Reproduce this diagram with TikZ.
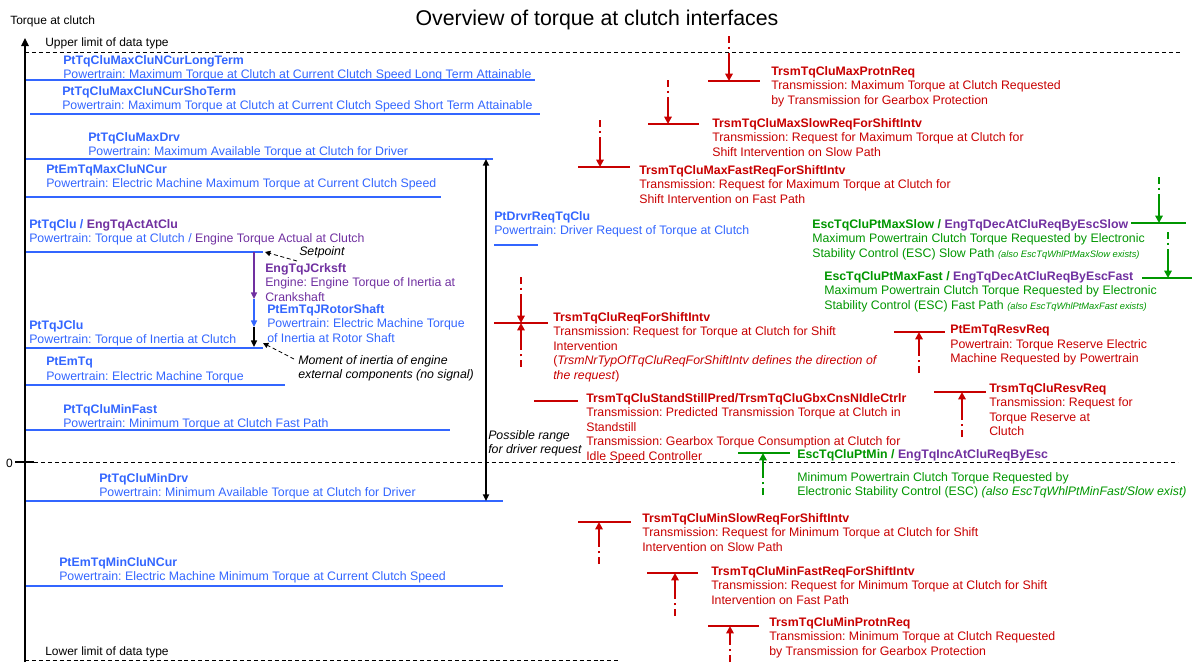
\documentclass[tikz,border=0pt]{standalone}
\usepackage{fontspec}
\setmainfont{Liberation Sans}
\usetikzlibrary{arrows.meta,positioning}
\frenchspacing

\definecolor{sigblue}{RGB}{51,102,255}
\definecolor{sigred}{RGB}{200,0,0}
\definecolor{siggreen}{RGB}{0,150,0}
\definecolor{sigpurple}{RGB}{112,48,160}

\begin{document}
\begin{tikzpicture}[
    x=0.75pt, y=-0.75pt,
    % --- STYLES ---
    sigtxt/.style={
        anchor=north west, inner sep=0pt,
        align=left, font=\fontsize{9.25}{10.9}\selectfont
    },
    bluetxt/.style={sigtxt, text=sigblue},
    redtxt/.style={sigtxt, text=sigred},
    greentxt/.style={sigtxt, text=siggreen},
    purpletxt/.style={sigtxt, text=sigpurple},
    remark/.style={sigtxt, font=\fontsize{9.25}{10.9}\selectfont\itshape},
    axislbl/.style={anchor=west, inner sep=0pt, font=\fontsize{9}{10.8}\selectfont},
    bluelvl/.style={draw=sigblue, line width=1.5pt},
    redlvl/.style={draw=sigred, line width=1.8pt},
    greenlvl/.style={draw=siggreen, line width=1.8pt},
    limitline/.style={draw=black, line width=0.7pt, dash pattern=on 3pt off 2.2pt},
    reqtail/.style={line width=1.6pt, dash pattern=on 5pt off 3pt on 2pt off 3pt},
    reqarrow/.style={line width=1.6pt, -{Triangle[length=5.5pt,width=5.5pt]}},
    inarrow/.style={line width=1pt, -{Triangle[length=5pt,width=4.5pt]}},
    drvrange/.style={line width=1.3pt,
        {Triangle[length=5pt,width=4.5pt]}-{Triangle[length=5pt,width=4.5pt]}},
    hintarrow/.style={black, line width=0.6pt, densely dashed,
        -{Triangle[length=4pt,width=4pt]}}
]
\useasboundingbox (0,0) rectangle (1192,662);

% ===== 1. AXIS & HEADERS =====
\def\xAxis{25}

\node[font=\fontsize{16}{19}\selectfont] (title) at (597,20) {Overview of torque at clutch interfaces};
\node[axislbl] (axlbl) at (10,21) {Torque at clutch};

\coordinate (axbot) at (\xAxis,662);
\coordinate (axtop) at (\xAxis,38);
\draw[line width=1.4pt, -{Triangle[length=6pt,width=5.5pt]}] (axbot) -- (axtop);

\node[axislbl, anchor=east] (zero) at (13,463) {0};
\draw[line width=1.4pt] (zero.east) ++(2,-1) -- (34,462);

\node[axislbl] (upper) at (45,43) {Upper limit of data type};
\node[axislbl] (lower) at (45,652) {Lower limit of data type};
\draw[limitline] (\xAxis,52) -- (1180,52);
\draw[limitline] (34,462) -- (1178,462);
\draw[limitline] (\xAxis,660) -- (620,660);

% ===== 2. POWERTRAIN LEVELS =====
\node[bluetxt] (lvl1) at (63,55) {\textbf{PtTqCluMaxCluNCurLongTerm}\\Powertrain: Maximum Torque at Clutch at Current Clutch Speed Long Term Attainable};
\draw[bluelvl] (26,80) -- (535,80);

\node[bluetxt] (lvl2) at (62,86) {\textbf{PtTqCluMaxCluNCurShoTerm}\\Powertrain: Maximum Torque at Clutch at Current Clutch Speed Short Term Attainable};
\draw[bluelvl] (30,114) -- (540,114);

\node[bluetxt] (lvl3) at (88,132) {\textbf{PtTqCluMaxDrv}\\Powertrain: Maximum Available Torque at Clutch for Driver};
\draw[bluelvl] (26,159) -- (493,159);

\node[bluetxt] (lvl4) at (46,164) {\textbf{PtEmTqMaxCluNCur}\\Powertrain: Electric Machine Maximum Torque at Current Clutch Speed};
\draw[bluelvl] (26,197) -- (441,197);

\node[bluetxt] (lvl5) at (29,219) {\textbf{PtTqClu / \textcolor{sigpurple}{EngTqActAtClu}}\\Powertrain: Torque at Clutch / \textcolor{sigpurple}{Engine Torque Actual at Clutch}};
\draw[bluelvl] (26,252) -- (263,252);

\node[bluetxt] (lvl6) at (29,320) {\textbf{PtTqJClu}\\Powertrain: Torque of Inertia at Clutch};
\draw[bluelvl] (26,348) -- (263,348);

\node[bluetxt] (lvl7) at (46,357) {\textbf{PtEmTq}\\Powertrain: Electric Machine Torque};
\draw[bluelvl] (26,385) -- (285,385);

\node[bluetxt] (lvl8) at (63,404) {\textbf{PtTqCluMinFast}\\Powertrain: Minimum Torque at Clutch Fast Path};
\draw[bluelvl] (26,430) -- (450,430);

\node[bluetxt] (lvl9) at (99,473) {\textbf{PtTqCluMinDrv}\\Powertrain: Minimum Available Torque at Clutch for Driver};
\draw[bluelvl] (26,501) -- (503,501);

\node[bluetxt] (lvl10) at (59,557) {\textbf{PtEmTqMinCluNCur}\\Powertrain: Electric Machine Minimum Torque at Current Clutch Speed};
\draw[bluelvl] (26,586) -- (503,586);

\node[bluetxt] (drvreq) at (494,211) {\textbf{PtDrvrReqTqClu}\\Powertrain: Driver Request of Torque at Clutch};
\draw[bluelvl] (494,245) -- (538,245);

% -- Driver range --
\coordinate (rngtop) at (486,159);
\coordinate (rngbot) at (486,501);
\draw[drvrange] (rngbot) -- (rngtop);
\node[remark] (rnglbl) at (488,430) {Possible range\\for driver request};

% ===== 3. INERTIA CHAIN =====
\coordinate (inA) at (254,252);
\coordinate (inB) at (254,299);
\coordinate (inC) at (254,327);
\coordinate (inD) at (254,347);
\draw[inarrow, sigpurple] (inA) -- (inB);
\draw[inarrow, sigblue] (inB) -- (inC);
\draw[inarrow, black] (inC) -- (inD);

\node[remark, anchor=west] (setpt) at (299,252) {Setpoint};
\coordinate (setpt-tip) at (265,252);
\draw[hintarrow] (297,261) -- (setpt-tip);

\node[purpletxt] (jcrk) at (265,263) {\textbf{EngTqJCrksft}\\Engine: Engine Torque of Inertia at\\Crankshaft};
\node[bluetxt] (jrot) at (267,304) {\textbf{PtEmTqJRotorShaft}\\Powertrain: Electric Machine Torque\\of Inertia at Rotor Shaft};

\node[remark] (moment) at (298,355) {Moment of inertia of engine\\external components (no signal)};
\coordinate (moment-tip) at (263,343);
\draw[hintarrow] (294,359) -- (moment-tip);

% ===== 4. TRANSMISSION REQUESTS =====
% -- maximum side (arrows downwards) --
\path (729,36) coordinate (r1a) (729,55) coordinate (r1b) (729,81) coordinate (r1c);
\draw[redlvl] (708,81) -- (760,81);
\draw[reqtail, sigred] (r1a) -- (r1b);
\draw[reqarrow, sigred] (r1b) -- (r1c);
\node[redtxt] (r1) at (771,66) {\textbf{TrsmTqCluMaxProtnReq}\\Transmission: Maximum Torque at Clutch Requested\\by Transmission for Gearbox Protection};

\path (668,80) coordinate (r2a) (668,99) coordinate (r2b) (668,124) coordinate (r2c);
\draw[redlvl] (648,124) -- (699,124);
\draw[reqtail, sigred] (r2a) -- (r2b);
\draw[reqarrow, sigred] (r2b) -- (r2c);
\node[redtxt] (r2) at (712,118) {\textbf{TrsmTqCluMaxSlowReqForShiftIntv}\\Transmission: Request for Maximum Torque at Clutch for\\Shift Intervention on Slow Path};

\path (600,120) coordinate (r3a) (600,141) coordinate (r3b) (600,167) coordinate (r3c);
\draw[redlvl] (578,167) -- (630,167);
\draw[reqtail, sigred] (r3a) -- (r3b);
\draw[reqarrow, sigred] (r3b) -- (r3c);
\node[redtxt] (r3) at (639,165) {\textbf{TrsmTqCluMaxFastReqForShiftIntv}\\Transmission: Request for Maximum Torque at Clutch for\\Shift Intervention on Fast Path};

% -- request in both directions --
\path (521,277) coordinate (r4a) (521,297) coordinate (r4b) (521,323) coordinate (r4c)
      (521,367) coordinate (r4d) (521,347) coordinate (r4e);
\draw[redlvl] (494,323) -- (548,323);
\draw[reqtail, sigred] (r4a) -- (r4b);
\draw[reqarrow, sigred] (r4b) -- (r4c);
\draw[reqtail, sigred] (r4d) -- (r4e);
\draw[reqarrow, sigred] (r4e) -- (r4c);
\node[redtxt] (r4) at (553,312) {\textbf{TrsmTqCluReqForShiftIntv}\\Transmission: Request for Torque at Clutch for Shift\\Intervention\\(\textit{TrsmNrTypOfTqCluReqForShiftIntv defines the direction of}\\\textit{the request})};

\draw[redlvl] (534,401) -- (578,401);
\node[redtxt] (r5) at (586,393) {\textbf{TrsmTqCluStandStillPred/TrsmTqCluGbxCnsNIdleCtrlr}\\Transmission: Predicted Transmission Torque at Clutch in\\Standstill\\Transmission: Gearbox Torque Consumption at Clutch for\\Idle Speed Controller};

% -- reserve requests (arrows upwards) --
\path (919,373) coordinate (r6a) (919,352) coordinate (r6b) (919,332) coordinate (r6c);
\draw[redlvl] (894,332) -- (945,332);
\draw[reqtail, sigred] (r6a) -- (r6b);
\draw[reqarrow, sigred] (r6b) -- (r6c);
\node[redtxt] (r6) at (950,325) {\textbf{PtEmTqResvReq}\\Powertrain: Torque Reserve Electric\\Machine Requested by Powertrain};

\path (962,437) coordinate (r7a) (962,415) coordinate (r7b) (962,392) coordinate (r7c);
\draw[redlvl] (934,392) -- (986,392);
\draw[reqtail, sigred] (r7a) -- (r7b);
\draw[reqarrow, sigred] (r7b) -- (r7c);
\node[redtxt] (r7) at (989,383) {\textbf{TrsmTqCluResvReq}\\Transmission: Request for\\Torque Reserve at\\Clutch};

% -- minimum side (arrows upwards) --
\path (599,564) coordinate (r8a) (599,543) coordinate (r8b) (599,522) coordinate (r8c);
\draw[redlvl] (578,522) -- (631,522);
\draw[reqtail, sigred] (r8a) -- (r8b);
\draw[reqarrow, sigred] (r8b) -- (r8c);
\node[redtxt] (r8) at (642,513) {\textbf{TrsmTqCluMinSlowReqForShiftIntv}\\Transmission: Request for Minimum Torque at Clutch for Shift\\Intervention on Slow Path};

\path (675,616) coordinate (r9a) (675,594) coordinate (r9b) (675,573) coordinate (r9c);
\draw[redlvl] (647,573) -- (698,573);
\draw[reqtail, sigred] (r9a) -- (r9b);
\draw[reqarrow, sigred] (r9b) -- (r9c);
\node[redtxt] (r9) at (711,566) {\textbf{TrsmTqCluMinFastReqForShiftIntv}\\Transmission: Request for Minimum Torque at Clutch for Shift\\Intervention on Fast Path};

\path (730,662) coordinate (r10a) (730,645) coordinate (r10b) (730,626) coordinate (r10c);
\draw[redlvl] (708,626) -- (759,626);
\draw[reqtail, sigred] (r10a) -- (r10b);
\draw[reqarrow, sigred] (r10b) -- (r10c);
\node[redtxt] (r10) at (769,617) {\textbf{TrsmTqCluMinProtnReq}\\Transmission: Minimum Torque at Clutch Requested\\by Transmission for Gearbox Protection};

% ===== 5. ESC REQUESTS =====
\path (1159,177) coordinate (g1a) (1159,196) coordinate (g1b) (1159,223) coordinate (g1c);
\draw[greenlvl] (1131,223) -- (1186,223);
\draw[reqtail, siggreen] (g1a) -- (g1b);
\draw[reqarrow, siggreen] (g1b) -- (g1c);
\node[greentxt] (g1) at (812,219) {\textbf{EscTqCluPtMaxSlow / \textcolor{sigpurple}{EngTqDecAtCluReqByEscSlow}}\\Maximum Powertrain Clutch Torque Requested by Electronic\\Stability Control (ESC) Slow Path {\fontsize{7}{10.9}\selectfont\itshape (also EscTqWhlPtMaxSlow exists)}};

\path (1168,232) coordinate (g2a) (1168,254) coordinate (g2b) (1168,278) coordinate (g2c);
\draw[greenlvl] (1142,278) -- (1192,278);
\draw[reqtail, siggreen] (g2a) -- (g2b);
\draw[reqarrow, siggreen] (g2b) -- (g2c);
\node[greentxt] (g2) at (824,271) {\textbf{EscTqCluPtMaxFast / \textcolor{sigpurple}{EngTqDecAtCluReqByEscFast}}\\Maximum Powertrain Clutch Torque Requested by Electronic\\Stability Control (ESC) Fast Path {\fontsize{7}{10.9}\selectfont\itshape (also EscTqWhlPtMaxFast exists)}};

\path (763,495) coordinate (g3a) (763,476) coordinate (g3b) (763,453) coordinate (g3c);
\draw[greenlvl] (738,453) -- (790,453);
\draw[reqtail, siggreen] (g3a) -- (g3b);
\draw[reqarrow, siggreen] (g3b) -- (g3c);
\node[greentxt] (g3) at (797,449) {\textbf{EscTqCluPtMin / \textcolor{sigpurple}{EngTqIncAtCluReqByEsc}}};
\node[greentxt] (g3desc) at (797,472) {Minimum Powertrain Clutch Torque Requested by\\Electronic Stability Control (ESC) \textit{(also EscTqWhlPtMinFast/Slow exist)}};

\end{tikzpicture}
\end{document}
